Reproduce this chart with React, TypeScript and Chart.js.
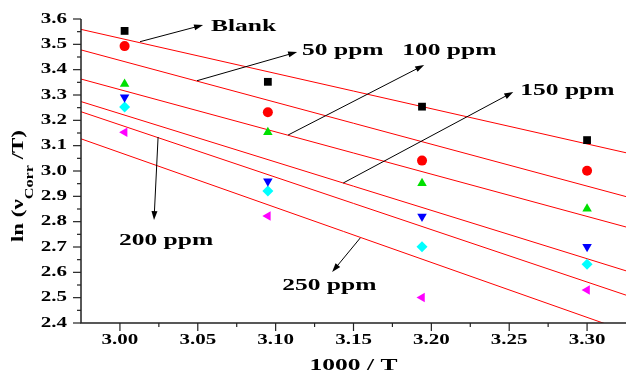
import React, { useEffect, useRef } from 'react';
import { Chart, registerables } from 'chart.js';

Chart.register(...registerables);

// ---- data ----
const xValues = [3.003, 3.095, 3.194, 3.300];
const blank = [3.553, 3.352, 3.254, 3.122];
const ppm50 = [3.493, 3.232, 3.041, 3.001];
const ppm100 = [3.343, 3.153, 2.952, 2.851];
const ppm150 = [3.291, 2.960, 2.820, 2.701];
const ppm200 = [3.253, 2.921, 2.701, 2.632];
const ppm250 = [3.153, 2.822, 2.501, 2.530];

// linear fit lines, read at the axis limits
const fitX = [2.975, 3.325];
const fitBlank = [3.559, 3.072];
const fit50 = [3.478, 2.899];
const fit100 = [3.363, 2.779];
const fit150 = [3.274, 2.606];
const fit200 = [3.234, 2.510];
const fit250 = [3.127, 2.368];

const xTicks = [3.0, 3.05, 3.1, 3.15, 3.2, 3.25, 3.3];
const yTicks = [2.4, 2.5, 2.6, 2.7, 2.8, 2.9, 3.0, 3.1, 3.2, 3.3, 3.4, 3.5, 3.6];
const xMin = 2.975;
const xMax = 3.325;
const yMin = 2.4;
const yMax = 3.6;

const seriesNames = ['Blank', '50 ppm', '100 ppm', '150 ppm', '200 ppm', '250 ppm'];
const seriesValues = [blank, ppm50, ppm100, ppm150, ppm200, ppm250];
const fitValues = [fitBlank, fit50, fit100, fit150, fit200, fit250];

// annotation arrows (data coordinates)
const arrowFrom = [
  [3.0129, 3.5104],
  [3.0495, 3.3564],
  [3.108, 3.142],
  [3.1434, 2.9526],
  [3.0245, 3.1341],
  [3.1543, 2.7354],
];
const arrowTo = [
  [3.0534, 3.5763],
  [3.1138, 3.4697],
  [3.1954, 3.4184],
  [3.2526, 3.3118],
  [3.0219, 2.8065],
  [3.1363, 2.6012],
];
const labelAt = [
  [3.0585, 3.5526],
  [3.117, 3.4579],
  [3.1813, 3.4579],
  [3.2571, 3.3],
  [2.9994, 2.7078],
  [3.1042, 2.5301],
];

// ---- styles ----
const markerColors = ['#000000', '#ff0000', '#00e000', '#0000ff', '#00ffff', '#ff00ff'];
const markerStyles = ['rect', 'circle', 'triangle', 'triangle', 'rectRot', 'triangle'];
const markerRotations = [0, 0, 0, 180, 0, 270];
const markerRadius = [5.5, 5, 5.5, 5.5, 5.5, 5.5];
const SERIF = '"Liberation Serif", "Times New Roman", serif';
const AXIS_COLOR = '#222222';

function drawText(
  ctx: CanvasRenderingContext2D,
  text: string,
  x: number,
  y: number,
  font: string,
  sx: number,
  align: 'left' | 'center' | 'right',
  baseline: CanvasTextBaseline = 'alphabetic'
) {
  ctx.save();
  ctx.font = font;
  ctx.textBaseline = baseline;
  ctx.textAlign = 'left';
  const w = ctx.measureText(text).width * sx;
  let left = x;
  if (align === 'center') left = x - w / 2;
  else if (align === 'right') left = x - w;
  ctx.translate(left, y);
  ctx.scale(sx, 1);
  ctx.fillStyle = '#000';
  ctx.fillText(text, 0, 0);
  ctx.restore();
}

function drawArrow(ctx: CanvasRenderingContext2D, x1: number, y1: number, x2: number, y2: number) {
  const ang = Math.atan2(y2 - y1, x2 - x1);
  const c = Math.cos(ang);
  const s = Math.sin(ang);
  const L = 9;
  const W = 3;
  ctx.save();
  ctx.strokeStyle = '#000';
  ctx.fillStyle = '#000';
  ctx.lineWidth = 1;
  ctx.beginPath();
  ctx.moveTo(x1, y1);
  ctx.lineTo(x2 - c * L * 0.6, y2 - s * L * 0.6);
  ctx.stroke();
  ctx.beginPath();
  ctx.moveTo(x2, y2);
  ctx.lineTo(x2 - L * c + W * s, y2 - L * s - W * c);
  ctx.lineTo(x2 - L * c - W * s, y2 - L * s + W * c);
  ctx.closePath();
  ctx.fill();
  ctx.restore();
}

const decorPlugin = {
  id: 'decor',
  afterDatasetsDraw(chart: any) {
    const ctx: CanvasRenderingContext2D = chart.ctx;
    const xs = chart.scales.x;
    const ys = chart.scales.y;
    const area = chart.chartArea;
    const px = (v: number) => xs.getPixelForValue(v);
    const py = (v: number) => ys.getPixelForValue(v);

    ctx.save();
    // axes
    ctx.strokeStyle = AXIS_COLOR;
    ctx.lineWidth = 1.5;
    ctx.beginPath();
    ctx.moveTo(area.left, area.top);
    ctx.lineTo(area.left, area.bottom);
    ctx.lineTo(area.right, area.bottom);
    ctx.stroke();

    // y ticks
    ctx.lineWidth = 1.2;
    yTicks.forEach((t, i) => {
      const y = py(t);
      ctx.beginPath();
      ctx.moveTo(area.left - 8, y);
      ctx.lineTo(area.left, y);
      ctx.stroke();
      if (i < yTicks.length - 1) {
        const ym = py((t + yTicks[i + 1]) / 2);
        ctx.beginPath();
        ctx.moveTo(area.left - 4, ym);
        ctx.lineTo(area.left, ym);
        ctx.stroke();
      }
      drawText(ctx, t.toFixed(1), area.left - 14, y, 'bold 14px ' + SERIF, 1.5, 'right', 'middle');
    });
    // x ticks
    const minorX = [xMin, ...xTicks.map((t) => t + (xTicks[1] - xTicks[0]) / 2)];
    minorX.forEach((t) => {
      const x = px(t);
      if (x > area.left + 1 && x < area.right - 0.5) {
        ctx.beginPath();
        ctx.moveTo(x, area.bottom);
        ctx.lineTo(x, area.bottom + 4);
        ctx.stroke();
      }
    });
    xTicks.forEach((t) => {
      const x = px(t);
      ctx.beginPath();
      ctx.moveTo(x, area.bottom);
      ctx.lineTo(x, area.bottom + 8);
      ctx.stroke();
      drawText(ctx, t.toFixed(2), x, area.bottom + 21, 'bold 14px ' + SERIF, 1.5, 'center', 'alphabetic');
    });
    ctx.restore();

    // x title
    drawText(ctx, '1000 / T', (area.left + area.right) / 2, 370, 'bold 17px ' + SERIF, 1.5, 'center');

    // y title (rotated, with subscript)
    ctx.save();
    ctx.translate(23, 186);
    ctx.rotate(-Math.PI / 2);
    const sx = 1.35;
    const mainFont = 'bold 17px ' + SERIF;
    const subFont = 'bold 12px ' + SERIF;
    ctx.font = mainFont;
    const w1 = ctx.measureText('ln (\u03bd').width * sx;
    const w3 = ctx.measureText(' /T)').width * sx;
    ctx.font = subFont;
    const w2 = ctx.measureText('Corr').width * sx;
    const total = w1 + w2 + w3;
    let cx = -total / 2;
    drawText(ctx, 'ln (\u03bd', cx, 0, mainFont, sx, 'left');
    cx += w1;
    drawText(ctx, 'Corr', cx, 10, subFont, sx, 'left');
    cx += w2;
    drawText(ctx, ' /T)', cx, 0, mainFont, sx, 'left');
    ctx.restore();

    // annotations
    seriesNames.forEach((name, i) => {
      drawArrow(ctx, px(arrowFrom[i][0]), py(arrowFrom[i][1]), px(arrowTo[i][0]), py(arrowTo[i][1]));
      drawText(ctx, name, px(labelAt[i][0]), py(labelAt[i][1]), 'bold 17px ' + SERIF, 1.5, 'left');
    });
  },
};

export default function App() {
  const canvasRef = useRef<HTMLCanvasElement | null>(null);

  useEffect(() => {
    const canvas = canvasRef.current;
    if (!canvas) return;

    const fitSets = fitValues.map((vals, i) => ({
      label: seriesNames[i] + ' fit',
      data: fitX.map((x, j) => ({ x, y: vals[j] })),
      showLine: true,
      borderColor: '#ff0000',
      borderWidth: 1,
      pointRadius: 0,
      fill: false,
      order: 2,
    }));
    const pointSets = seriesValues.map((vals, i) => ({
      label: seriesNames[i],
      data: xValues.map((x, j) => ({ x, y: vals[j] })),
      showLine: false,
      pointStyle: markerStyles[i],
      rotation: markerRotations[i],
      pointRadius: markerRadius[i],
      backgroundColor: markerColors[i],
      borderColor: markerColors[i],
      borderWidth: 0,
      order: 1,
    }));

    const chart = new Chart(canvas, {
      type: 'scatter',
      data: { datasets: [...fitSets, ...pointSets] as any },
      options: {
        animation: false,
        responsive: false,
        devicePixelRatio: 1,
        events: [],
        layout: { autoPadding: false, padding: { left: 81, top: 19, right: 0, bottom: 50 } },
        plugins: { legend: { display: false }, tooltip: { enabled: false } },
        scales: {
          x: { type: 'linear', display: false, min: xMin, max: xMax },
          y: { type: 'linear', display: false, min: yMin, max: yMax },
        },
      },
      plugins: [decorPlugin],
    });
    return () => chart.destroy();
  }, []);

  return (
    <div style={{ position: 'absolute', left: 0, top: 0, width: 626, height: 373, background: '#fff' }}>
      <canvas ref={canvasRef} width={626} height={373} style={{ display: 'block' }} />
    </div>
  );
}
